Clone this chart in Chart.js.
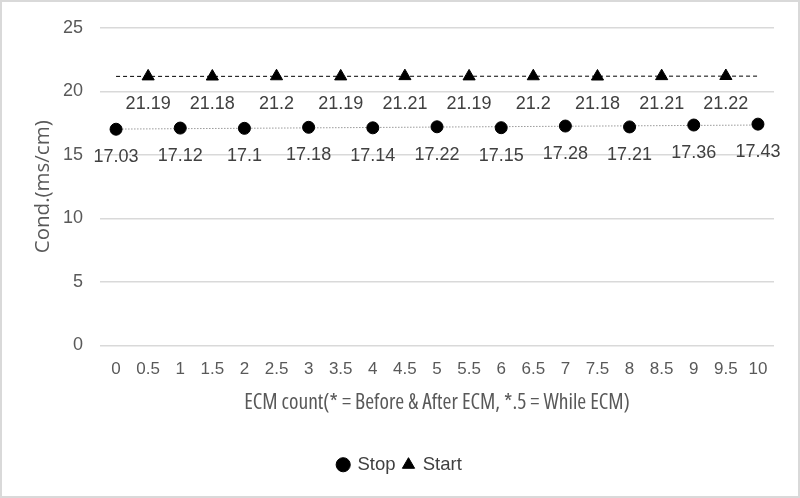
<!DOCTYPE html>
<html>
<head>
<meta charset="utf-8">
<script src="https://cdn.jsdelivr.net/npm/chart.js@4.4.1/dist/chart.umd.min.js"></script>
<style>
  html, body { margin: 0; padding: 0; background: #fff; }
  #wrap { width: 796px; height: 494px; border: 2px solid #d9d9d9; }
</style>
</head>
<body>
<div id="wrap"><canvas id="condchart" width="796" height="494"></canvas></div>
<script>
// x categories (tick labels)
const categories = ['0', '0.5', '1', '1.5', '2', '2.5', '3', '3.5', '4', '4.5', '5',
    '5.5', '6', '6.5', '7', '7.5', '8', '8.5', '9', '9.5', '10'];
// Stop is measured at whole counts, Start at the .5 counts
const stopX = ['0', '1', '2', '3', '4', '5', '6', '7', '8', '9', '10'];
const stopValues = [17.03, 17.12, 17.1, 17.18, 17.14, 17.22, 17.15, 17.28, 17.21, 17.36, 17.43];
const startX = ['0.5', '1.5', '2.5', '3.5', '4.5', '5.5', '6.5', '7.5', '8.5', '9.5'];
const startValues = [21.19, 21.18, 21.2, 21.19, 21.21, 21.19, 21.2, 21.18, 21.21, 21.22];
// trendline ends
const trendX = ['0', '10'];
const stopTrend = [17.04, 17.36];
const startTrend = [21.19, 21.21];
const yTicks = [0, 5, 10, 15, 20, 25];

const pair = (xs, ys) => xs.map((x, i) => ({ x: x, y: ys[i] }));

const regular = "'Liberation Sans', Arial, sans-serif";
const narrow = "'Open Sans', 'Noto Sans', sans-serif";
// chart.js puts weight in front of size, so the stretch keyword rides along there
const narrowFont = size => ({ family: narrow, size: size, weight: 'semi-condensed' });

// simple value labels under each point
const valueLabels = {
    id: 'valueLabels',
    afterDatasetsDraw(chart) {
        const ctx = chart.ctx;
        ctx.save();
        ctx.font = "18px " + regular;
        ctx.fillStyle = '#404040';
        ctx.textAlign = 'center';
        ctx.textBaseline = 'middle';
        chart.data.datasets.forEach((ds, i) => {
            if (!ds.showLabels) return;
            chart.getDatasetMeta(i).data.forEach((pt, j) => {
                ctx.fillText(String(ds.data[j].y), pt.x, pt.y + 28);
            });
        });
        ctx.restore();
    }
};

const ctxgraph = document.getElementById('condchart').getContext('2d');
const condChart = new Chart(ctxgraph, {
    type: 'line',
    data: {
        labels: categories,
        datasets: [{
            label: 'Stop',
            data: pair(stopX, stopValues),
            showLine: false,
            pointStyle: 'circle',
            pointRadius: 6,
            pointBackgroundColor: '#000',
            pointBorderColor: '#000',
            borderColor: '#000',
            backgroundColor: '#000',
            showLabels: true
        }, {
            label: 'Start',
            data: pair(startX, startValues),
            showLine: false,
            pointStyle: 'triangle',
            pointRadius: 7,
            pointBackgroundColor: '#000',
            pointBorderColor: '#000',
            borderColor: '#000',
            backgroundColor: '#000',
            showLabels: true
        }, {
            label: 'trend-stop',
            data: pair(trendX, stopTrend),
            borderColor: '#999',
            borderWidth: 1,
            borderDash: [1.5, 1.5],
            pointRadius: 0
        }, {
            label: 'trend-start',
            data: pair(trendX, startTrend),
            borderColor: '#000',
            borderWidth: 1,
            borderDash: [4, 3],
            pointRadius: 0
        }]
    },
    options: {
        responsive: false,
        animation: false,
        layout: { padding: { top: 26, right: 0, left: 0, bottom: 12 } },
        plugins: {
            tooltip: { enabled: false },
            legend: {
                position: 'bottom',
                labels: {
                    usePointStyle: true,
                    boxWidth: 10,
                    boxHeight: 10,
                    color: '#404040',
                    font: { family: regular, size: 18.5 },
                    padding: 8,
                    filter: item => !item.text.startsWith('trend')
                }
            }
        },
        scales: {
            x: {
                type: 'category',
                offset: true,
                grid: { display: false },
                border: { display: false },
                ticks: { color: '#595959', font: { family: regular, size: 17 }, maxRotation: 0, autoSkip: false, padding: 6 },
                title: {
                    display: true,
                    text: 'ECM count(* = Before & After ECM, *.5 = While ECM)',
                    color: '#595959',
                    font: narrowFont(21.5),
                    padding: { top: 10, bottom: 32 }
                },
                afterFit: scale => {
                    scale.height = 102;
                    scale.paddingLeft = 0;
                    scale.paddingRight = 24;
                }
            },
            y: {
                min: 0,
                max: 25,
                afterBuildTicks: scale => { scale.ticks = yTicks.map(v => ({ value: v })); },
                grid: { color: '#d9d9d9', lineWidth: 1.5, drawTicks: false },
                border: { display: false },
                ticks: { color: '#595959', font: { family: regular, size: 18 }, padding: 17 },
                title: {
                    display: true,
                    text: 'Cond.(ms/cm)',
                    color: '#595959',
                    font: { family: narrow, size: 20.5 },
                    padding: { top: 29, bottom: 0 }
                },
                afterFit: scale => { scale.width = 98; scale.paddingTop = 0; scale.paddingBottom = 0; }
            }
        }
    },
    plugins: [valueLabels]
});
</script>
</body>
</html>
